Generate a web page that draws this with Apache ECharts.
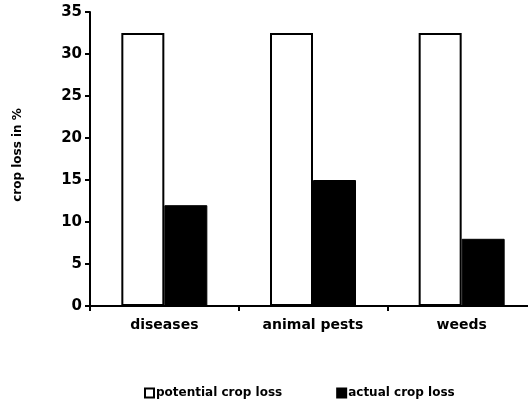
<!DOCTYPE html>
<html><head><meta charset="utf-8">
<script src="https://cdn.jsdelivr.net/npm/echarts@6/dist/echarts.min.js"></script>
<style>html,body{margin:0;padding:0;background:#fff}#c{width:528px;height:402px}</style>
</head><body><div id="c"></div>
<script>
var categories = ['diseases', 'animal pests', 'weeds'];
var potentialLoss = [32.5, 32.5, 32.5];
var actualLoss = [12, 15, 8];
var seriesNames = ['potential crop loss', 'actual crop loss'];
var yTicks = [0, 5, 10, 15, 20, 25, 30, 35];

var chart = echarts.init(document.getElementById('c'));
var F = 'DejaVu Sans, Liberation Sans, sans-serif';
chart.setOption({
  animation: false,
  backgroundColor: '#fff',
  grid: {left: 90, width: 446, top: 12, bottom: 96, outerBoundsMode: 'none'},
  legend: {
    data: seriesNames, left: 139, top: 382, itemWidth: 9, itemHeight: 9, itemGap: 54,
    icon: 'rect',
    textStyle: {fontFamily: F, fontWeight: 'bold', fontSize: 12, color: '#000', padding: [0,0,0,-3]}
  },
  xAxis: {
    type: 'category', data: categories,
    axisLine: {lineStyle: {color: '#000', width: 2}},
    axisTick: {show: true, inside: false, length: 5, lineStyle: {color: '#000', width: 2}},
    axisLabel: {fontFamily: F, fontWeight: 'bold', fontSize: 14, color: '#000', margin: 12},
    splitLine: {show: false}
  },
  yAxis: {
    type: 'value', min: yTicks[0], max: yTicks[yTicks.length-1], interval: 5,
    name: 'crop loss in %', nameLocation: 'middle', nameGap: 66, nameRotate: 90,
    nameTextStyle: {fontFamily: F, fontWeight: 'bold', fontSize: 12, color: '#000', padding: [0,0,0,8]},
    axisLine: {show: true, lineStyle: {color: '#000', width: 2}},
    axisTick: {show: true, length: 5, lineStyle: {color: '#000', width: 2}},
    axisLabel: {fontFamily: F, fontWeight: 'bold', fontSize: 15, color: '#000', margin: 8},
    splitLine: {show: false}
  },
  series: [
    {name: seriesNames[0], type: 'bar', data: potentialLoss, barWidth: 43, barGap: '0%',
     itemStyle: {color: '#fff', borderColor: '#000', borderWidth: 2}},
    {name: seriesNames[1], type: 'bar', data: actualLoss, barWidth: 43, barGap: '0%',
     itemStyle: {color: '#000', borderColor: '#000', borderWidth: 1}}
  ]
});
</script></body></html>
